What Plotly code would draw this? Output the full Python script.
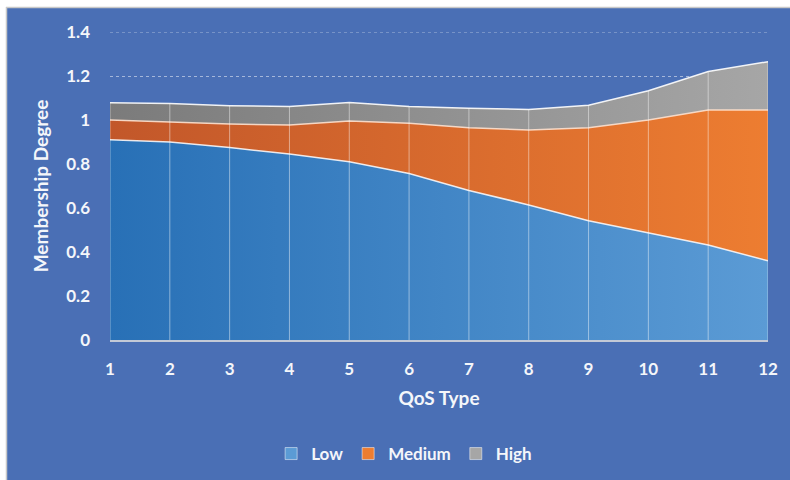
import plotly.graph_objects as go

# QoS types on the x axis
qos_types = list(range(1, 13))

# Membership degree of each level (stacked)
low = [0.91, 0.90, 0.875, 0.845, 0.81, 0.757, 0.68, 0.614, 0.542, 0.488, 0.432, 0.36]
medium = [0.09, 0.09, 0.107, 0.132, 0.185, 0.228, 0.285, 0.341, 0.423, 0.512, 0.613, 0.685]
high = [0.078, 0.085, 0.083, 0.084, 0.084, 0.076, 0.088, 0.093, 0.102, 0.133, 0.175, 0.22]

y_ticks = [0, 0.2, 0.4, 0.6, 0.8, 1, 1.2, 1.4]
y_tick_text = ["0", "0.2", "0.4", "0.6", "0.8", "1", "1.2", "1.4"]

BG = "#4A6FB5"
FONT = "Lato"
GRID = "rgba(255,255,255,0.5)"
W, H = 790, 480
ML, MR, MT, MB = 110, 22, 32, 140
PW, PH = W - ML - MR, H - MT - MB


def px_x(px):
    return (px - ML) / PW


def px_y(py):
    return (H - MB - py) / PH


series = [
    ("Low", low, "#2870B6", "#5B9BD5", "rgba(255,255,255,0.85)"),
    ("Medium", medium, "#C2572A", "#ED7D31", "rgba(255,225,205,0.9)"),
    ("High", high, "#7B7B7B", "#A6A6A6", "rgba(255,255,255,0.9)"),
]

fig = go.Figure()
for name, vals, c0, c1, lc in series:
    fig.add_trace(go.Scatter(
        x=qos_types, y=vals, name=name, stackgroup="degree", mode="lines",
        line=dict(color=lc, width=1.5),
        fillcolor=c1,
        fillgradient=dict(type="horizontal", colorscale=[[0, c0], [1, c1]]),
        showlegend=False,
    ))

# thin vertical drop lines from the axis to the top of the stack
totals = [a + b + c for a, b, c in zip(low, medium, high)]
xs, ys = [], []
for x, t in zip(qos_types, totals):
    xs += [x, x, None]
    ys += [0, t, None]
fig.add_trace(go.Scatter(
    x=xs, y=ys, mode="lines", showlegend=False, hoverinfo="skip",
    line=dict(color="rgba(255,255,255,0.45)", width=1),
))

# square legend keys
for name, _, c0, c1, _ in series:
    fig.add_trace(go.Bar(
        x=[None], y=[None], name=name,
        marker=dict(color=c1, line=dict(color="rgba(255,255,255,0.5)", width=1)),
    ))

tick_font = dict(family=FONT, size=17, color="#F4F6FA", weight="bold")
title_font = dict(family=FONT, size=19, color="#F4F6FA", weight="bold")

fig.update_layout(
    width=W, height=H,
    margin=dict(l=ML, r=MR, t=MT, b=MB, autoexpand=False),
    paper_bgcolor=BG, plot_bgcolor=BG,
    showlegend=True,
    legend=dict(
        orientation="h", x=0.447, xanchor="center", y=px_y(454), yanchor="middle",
        traceorder="normal", itemwidth=30,
        font=dict(family=FONT, size=17, color="#F4F6FA", weight="bold"),
        bgcolor="rgba(0,0,0,0)",
    ),
    xaxis=dict(
        range=[1, 12], tickvals=qos_types, showgrid=False, zeroline=False,
        showline=True, linecolor="#C3C9D6", linewidth=1.5, ticks="",
        tickfont=tick_font, ticklabelstandoff=13,
        title=dict(text="QoS Type", font=title_font, standoff=14),
    ),
    yaxis=dict(
        range=[0, 1.4], tickvals=y_ticks, ticktext=y_tick_text,
        showgrid=True, gridcolor=GRID, griddash="dot", gridwidth=1,
        zeroline=False, showline=False, ticks="",
        tickfont=tick_font, ticklabelstandoff=19,
        title=dict(text="Membership Degree", font=title_font, standoff=12),
    ),
    shapes=[
        # top gridline at the upper end of the value axis
        dict(type="line", xref="paper", yref="y", x0=0, x1=1, y0=y_ticks[-1], y1=y_ticks[-1],
             line=dict(color=GRID, width=1, dash="dot"), layer="below"),
        # white frame strips along the top and left edges
        dict(type="rect", xref="paper", yref="paper", x0=px_x(0), x1=px_x(W), y0=px_y(7), y1=px_y(0),
             fillcolor="white", line=dict(width=0), layer="above"),
        dict(type="rect", xref="paper", yref="paper", x0=px_x(0), x1=px_x(6), y0=px_y(H), y1=px_y(0),
             fillcolor="white", line=dict(width=0), layer="above"),
        dict(type="line", xref="paper", yref="paper", x0=px_x(6), x1=px_x(W), y0=px_y(7.5), y1=px_y(7.5),
             line=dict(color="#C8C8C8", width=1.5), layer="above"),
        dict(type="line", xref="paper", yref="paper", x0=px_x(6.5), x1=px_x(6.5), y0=px_y(H), y1=px_y(7),
             line=dict(color="#C8C8C8", width=1.5), layer="above"),
    ],
)

fig.write_html("out.html")
